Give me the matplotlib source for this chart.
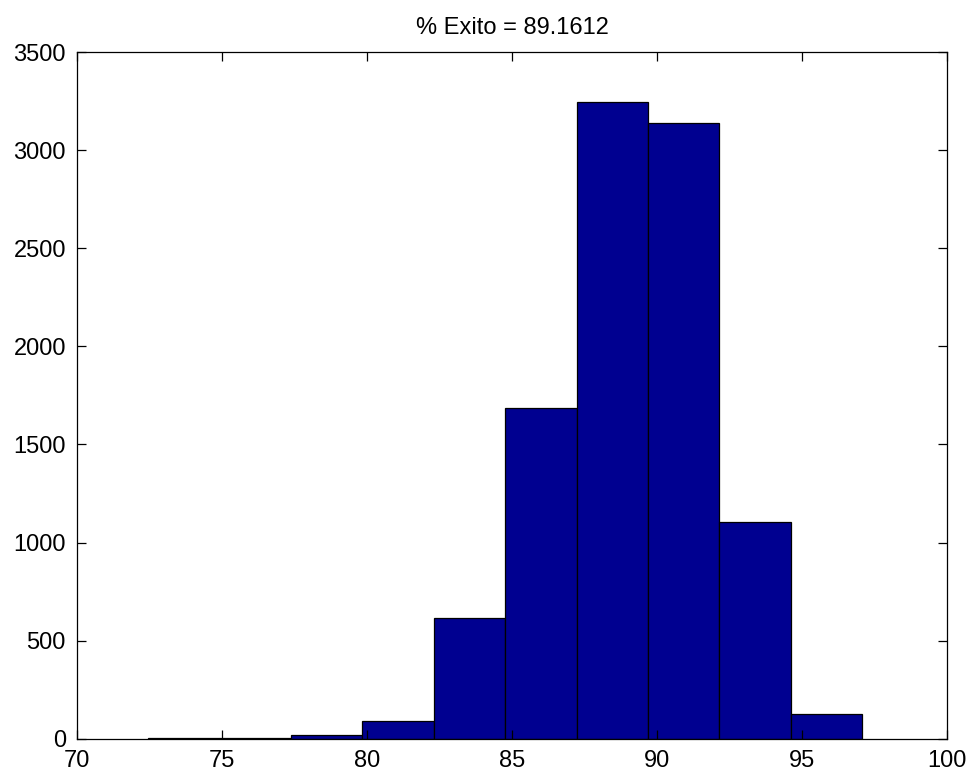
import matplotlib
matplotlib.use("Agg")
import matplotlib.pyplot as plt
import numpy as np

# histogram
bin_edges = [72.45, 74.91, 77.38, 79.84, 82.30, 84.77, 87.23, 89.69, 92.15, 94.61, 97.07]
counts = [5, 6, 18, 92, 617, 1685, 3247, 3137, 1103, 124]
x_ticks = [70, 75, 80, 85, 90, 95, 100]
y_ticks = [0, 500, 1000, 1500, 2000, 2500, 3000, 3500]
title = "% Exito = 89.1612"

plt.rcParams['font.family'] = ['Liberation Sans', 'DejaVu Sans']

fig = plt.figure(figsize=(9.71, 7.74), dpi=100)
ax = fig.add_axes([0.0793, 0.0456, 0.8960, 0.8872])

edges = np.array(bin_edges)
ax.bar(edges[:-1], counts, width=np.diff(edges), align='edge',
       color='#000090', edgecolor='black', linewidth=0.9)

ax.set_xlim(70, 100)
ax.set_ylim(0, 3500)
ax.set_xticks(x_ticks)
ax.set_yticks(y_ticks)
ax.tick_params(direction='in', length=6.3, width=0.9, top=True, right=True,
               labelsize=17, colors='black', pad=8)
for s in ax.spines.values():
    s.set_linewidth(0.9)

ax.set_title(title, fontsize=17, pad=13)

fig.savefig("out.png", dpi=100)
